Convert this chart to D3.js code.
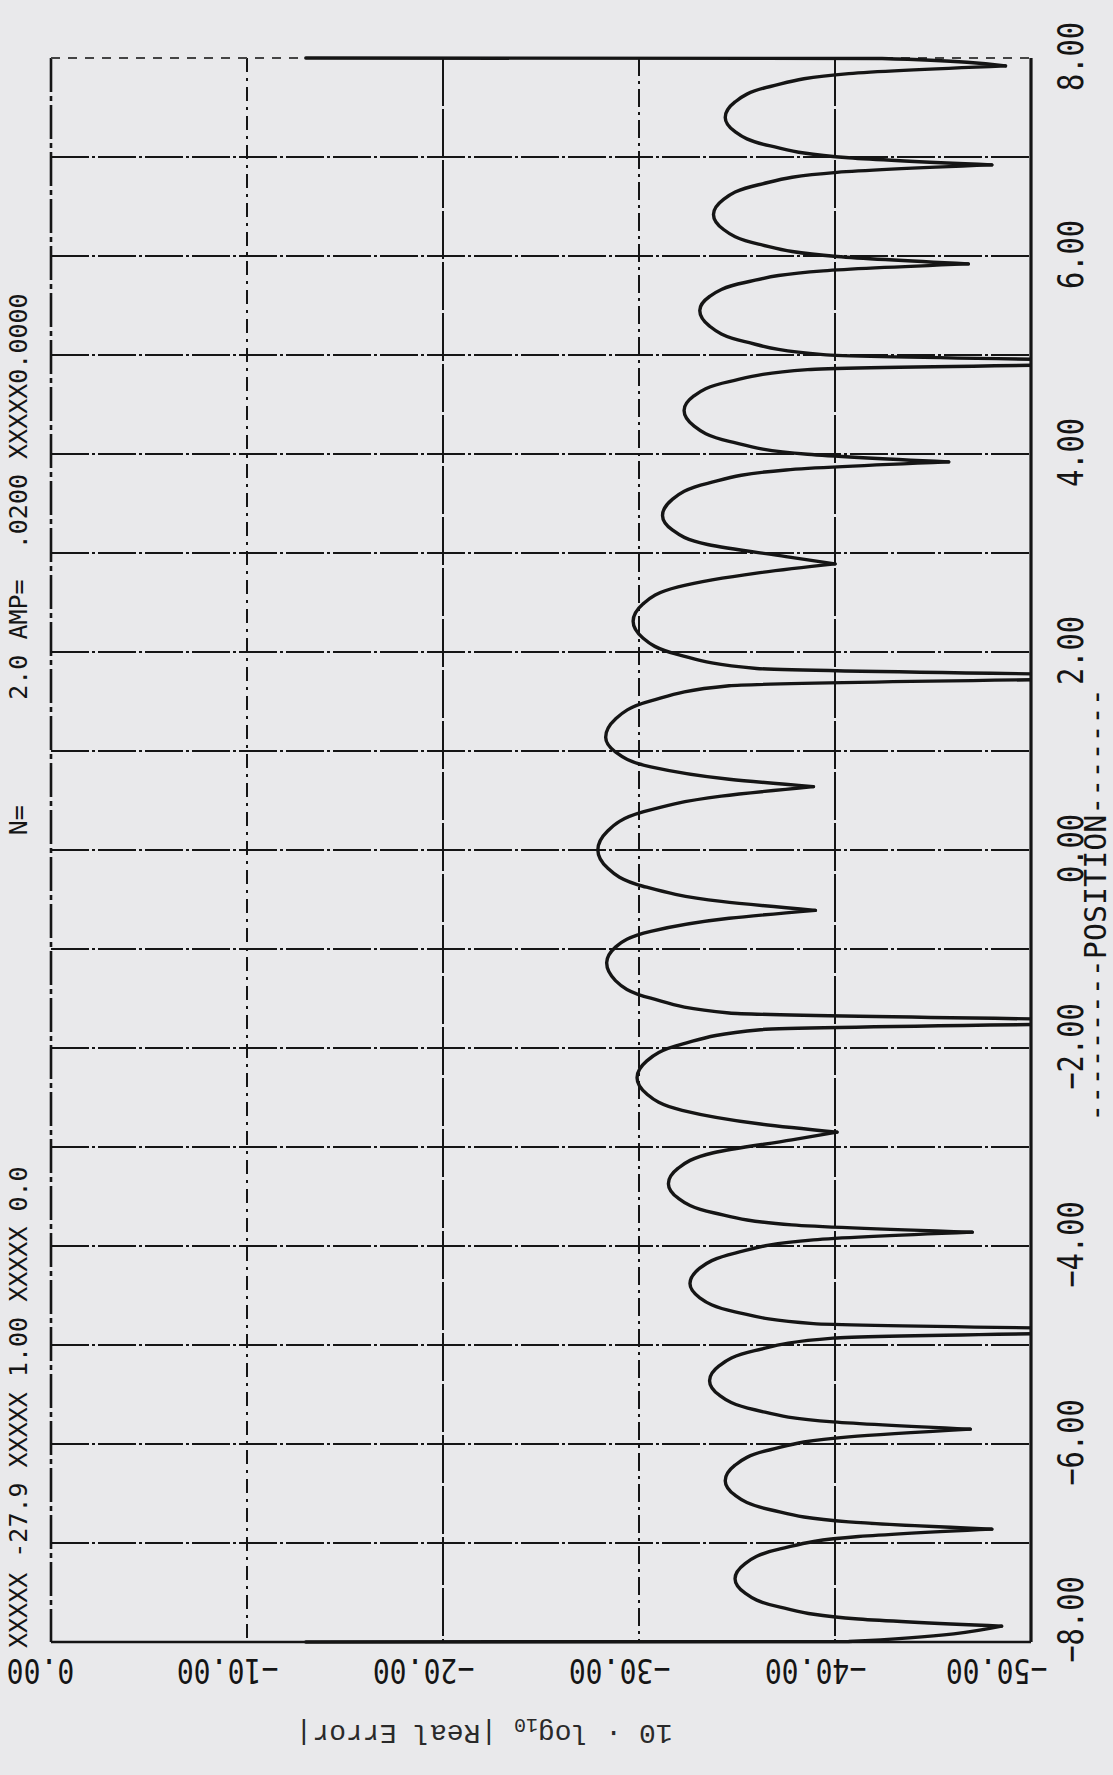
<!DOCTYPE html>
<html>
<head>
<meta charset="utf-8">
<script src="https://cdn.jsdelivr.net/npm/d3@7"></script>
<style>
  html, body { margin: 0; padding: 0; background: #e9e9eb; }
  svg { display: block; }
</style>
</head>
<body>
<svg id="chart" width="1113" height="1775"></svg>
<script>
// Error curve, ordered from POSITION 8.00 down to -8.00.
// curvePos: position along the line; curveDb: 10·log10|Real Error| in dB.
const curvePos = [
  8.00, 7.995, 7.92,
  7.842, 7.712, 7.556, 7.40, 7.256, 7.112, 6.992, 6.92,
  6.845, 6.72, 6.57, 6.42, 6.27, 6.12, 5.995, 5.92,
  5.85, 5.732, 5.591, 5.45, 5.292, 5.135, 5.004, 4.925,
  4.852, 4.731, 4.586, 4.44, 4.284, 4.128, 3.998, 3.92,
  3.839, 3.704, 3.542, 3.38, 3.233, 3.086, 2.964, 2.89,
  2.797, 2.658, 2.484, 2.31, 2.142, 1.974, 1.834, 1.75,
  1.659, 1.506, 1.323, 1.14, 0.99, 0.84, 0.715, 0.64,
  0.544, 0.384, 0.192, 0.00, -0.183, -0.366, -0.519, -0.61,
  -0.690, -0.822, -0.981, -1.14, -1.319, -1.497, -1.646, -1.735,
  -1.815, -1.961, -2.130, -2.30, -2.465, -2.63, -2.768, -2.85,
  -2.928, -3.058, -3.214, -3.37, -3.517, -3.664, -3.787, -3.86,
  -3.938, -4.072, -4.224, -4.38, -4.523, -4.665, -4.784, -4.855,
  -4.931, -5.057, -5.209, -5.36, -5.507, -5.654, -5.777, -5.85,
  -5.928, -6.058, -6.214, -6.37, -6.517, -6.664, -6.787, -6.86,
  -6.935, -7.06, -7.21, -7.36, -7.504, -7.648, -7.768, -7.84,
  -7.995, -8.00
];
const curveDb = [
  -13.0, -42.4, -48.7,
  -40.7, -36.7, -34.9, -34.4, -34.9, -36.7, -40.7, -48.0,
  -40.1, -36.1, -34.3, -33.8, -34.3, -36.1, -40.1, -46.8,
  -39.4, -35.4, -33.6, -33.1, -33.6, -35.4, -39.4, -62.0,
  -38.6, -34.6, -32.8, -32.3, -32.8, -34.6, -38.6, -45.8,
  -37.5, -33.5, -31.7, -31.2, -31.7, -33.5, -37.5, -40.0,
  -36.0, -32.0, -30.2, -29.7, -30.2, -32.0, -36.0, -62.0,
  -34.6, -30.6, -28.8, -28.3, -28.8, -30.6, -34.6, -38.9,
  -34.2, -30.2, -28.4, -27.9, -28.4, -30.2, -34.2, -39.0,
  -34.6, -30.6, -28.8, -28.35, -28.8, -30.6, -34.6, -62.0,
  -36.2, -32.2, -30.4, -29.9, -30.4, -32.2, -36.2, -40.1,
  -37.8, -33.8, -32.0, -31.5, -32.0, -33.8, -37.8, -47.0,
  -38.9, -34.9, -33.1, -32.6, -33.1, -34.9, -38.9, -62.0,
  -39.9, -35.9, -34.1, -33.6, -34.1, -35.9, -39.9, -46.9,
  -40.7, -36.7, -34.9, -34.4, -34.9, -36.7, -40.7, -48.0,
  -41.2, -37.2, -35.4, -34.9, -35.4, -37.2, -41.2, -48.5,
  -40.7, -13.0
];

// Axis ticks and grid
const levelTicks = [0, -10, -20, -30, -40, -50];
const levelGrid = [-10, -20, -30, -40];
const positionTicks = [-8, -6, -4, -2, 0, 2, 4, 6, 8];
const positionGrid = [-7, -6, -5, -4, -3, -2, -1, 0, 1, 2, 3, 4, 5, 6, 7];

// Text
const headerText = "XXXXX -27.9 XXXXX 1.00 XXXXX 0.0                      N=       2.0 AMP=  .0200 XXXXX0.0000";
const positionTitle = "---------POSITION-------";

// ---------------------------------------------------------------
const ink = "#151515";
const plot = { left: 51, right: 1031, top: 58, bottom: 1642 };

const x = d3.scaleLinear().domain([0, -50]).range([plot.left, plot.right]);
const y = d3.scaleLinear().domain([-8, 8]).range([plot.bottom, plot.top]);

const svg = d3.select("#chart");
svg.append("rect").attr("width", 1113).attr("height", 1775).attr("fill", "#e9e9eb");

svg.append("defs").append("clipPath").attr("id", "plotClip")
  .append("rect")
  .attr("x", plot.left - 2).attr("y", plot.top - 4)
  .attr("width", plot.right - plot.left + 3)
  .attr("height", plot.bottom - plot.top + 8);

// Grid lines
const grid = svg.append("g").attr("stroke", ink).attr("fill", "none");

grid.selectAll("line.hgrid").data(positionGrid).join("line")
  .attr("class", "hgrid")
  .attr("x1", plot.left).attr("x2", plot.right)
  .attr("y1", d => y(d)).attr("y2", d => y(d))
  .attr("stroke-width", 2)
  .attr("stroke-dasharray", "38,3,3,3");

const vStyle = { "-10": "14,6,3,6", "-20": "48,3", "-30": "18,5,3,5", "-40": "48,3" };
grid.selectAll("line.vgrid").data(levelGrid).join("line")
  .attr("class", "vgrid")
  .attr("x1", d => x(d)).attr("x2", d => x(d))
  .attr("y1", plot.top).attr("y2", plot.bottom)
  .attr("stroke-width", 2)
  .attr("stroke-dasharray", d => vStyle[d]);

// Frame
const frame = svg.append("g").attr("stroke", ink).attr("fill", "none");
frame.append("line") // 0 dB edge
  .attr("x1", x(0)).attr("x2", x(0)).attr("y1", plot.top).attr("y2", plot.bottom)
  .attr("stroke-width", 2.6).attr("stroke-dasharray", "34,4,5,4");
frame.append("line") // -50 dB edge
  .attr("x1", x(-50)).attr("x2", x(-50)).attr("y1", plot.top).attr("y2", plot.bottom)
  .attr("stroke-width", 3.2);
frame.append("line") // position 8.00
  .attr("x1", plot.left).attr("x2", plot.right).attr("y1", y(8)).attr("y2", y(8))
  .attr("stroke-width", 1.8).attr("stroke", "#444").attr("stroke-dasharray", "9,8");
frame.append("line") // position -8.00
  .attr("x1", plot.left).attr("x2", plot.right).attr("y1", y(-8)).attr("y2", y(-8))
  .attr("stroke-width", 2.6);

// Curve: split at each null so the spikes stay sharp while the lobes stay smooth
const pts = curvePos.map((p, i) => ({ pos: p, db: curveDb[i] }));
const cuts = [0];
for (let i = 1; i < pts.length - 1; i++) {
  if (pts[i].db < pts[i - 1].db && pts[i].db < pts[i + 1].db) cuts.push(i);
}
cuts.push(pts.length - 1);
const segments = [];
for (let k = 0; k < cuts.length - 1; k++) segments.push(pts.slice(cuts[k], cuts[k + 1] + 1));

const line = d3.line()
  .x(d => x(d.db))
  .y(d => y(d.pos))
  .curve(d3.curveMonotoneY);

svg.append("g").attr("clip-path", "url(#plotClip)")
  .selectAll("path").data(segments).join("path")
  .attr("d", line)
  .attr("fill", "none")
  .attr("stroke", ink)
  .attr("stroke-width", 3.4)
  .attr("stroke-linejoin", "round")
  .attr("stroke-linecap", "round");

// Level axis (bottom), labels printed upside down
const fmt = d3.format(".2f");
const levelAxis = svg.append("g")
  .attr("transform", `translate(0,1670)`)
  .call(d3.axisBottom(x).tickValues(levelTicks).tickSize(0).tickPadding(0).tickFormat(fmt));
levelAxis.select(".domain").remove();
levelAxis.attr("font-family", "'DejaVu Sans Mono', monospace").attr("font-size", 33);
levelAxis.selectAll(".tick text")
  .attr("y", 0).attr("dy", null)
  .attr("fill", ink)
  .attr("text-anchor", "middle")
  .attr("dominant-baseline", "central")
  .attr("transform", d => {
    const cx = Math.min(Math.max(x(d) - 20, 40), 996);
    return `translate(${cx - x(d)},0) rotate(180) scale(0.85,1)`;
  });

// Position axis (right), labels reading upward
const posAxis = svg.append("g")
  .attr("transform", `translate(1071,0)`)
  .call(d3.axisRight(y).tickValues(positionTicks).tickSize(0).tickPadding(0).tickFormat(fmt));
posAxis.select(".domain").remove();
posAxis.attr("font-family", "'DejaVu Sans Mono', monospace").attr("font-size", 35);
posAxis.selectAll(".tick text")
  .attr("x", 0).attr("dy", null)
  .attr("fill", ink)
  .attr("text-anchor", "middle")
  .attr("dominant-baseline", "central")
  .attr("transform", d => {
    const cy = Math.min(Math.max(y(d) - 2, 37), 1619);
    return `translate(0,${cy - y(d)}) rotate(-90) scale(0.82,1)`;
  });

// Axis titles
svg.append("text")
  .attr("transform", "translate(1095,905) rotate(-90)")
  .attr("text-anchor", "middle")
  .attr("dominant-baseline", "central")
  .attr("font-family", "'DejaVu Sans Mono', monospace")
  .attr("font-size", 30)
  .attr("fill", ink)
  .style("white-space", "pre")
  .text(positionTitle);

const levelTitle = svg.append("text")
  .attr("transform", "translate(484,1733) rotate(180)")
  .attr("text-anchor", "middle")
  .attr("dominant-baseline", "central")
  .attr("font-family", "'Liberation Mono', 'Courier New', monospace")
  .attr("font-size", 28)
  .attr("fill", "#2a2a2a");
levelTitle.append("tspan").text("10 · log");
levelTitle.append("tspan").attr("font-size", 20).attr("dy", 8).text("10");
levelTitle.append("tspan").attr("dy", -8).text(" |Real Error|");

// Run header along the left edge
svg.append("text")
  .attr("transform", "translate(27,1648) rotate(-90)")
  .attr("text-anchor", "start")
  .attr("font-family", "'DejaVu Sans Mono', monospace")
  .attr("font-size", 25)
  .attr("fill", ink)
  .style("white-space", "pre")
  .text(headerText);
</script>
</body>
</html>
